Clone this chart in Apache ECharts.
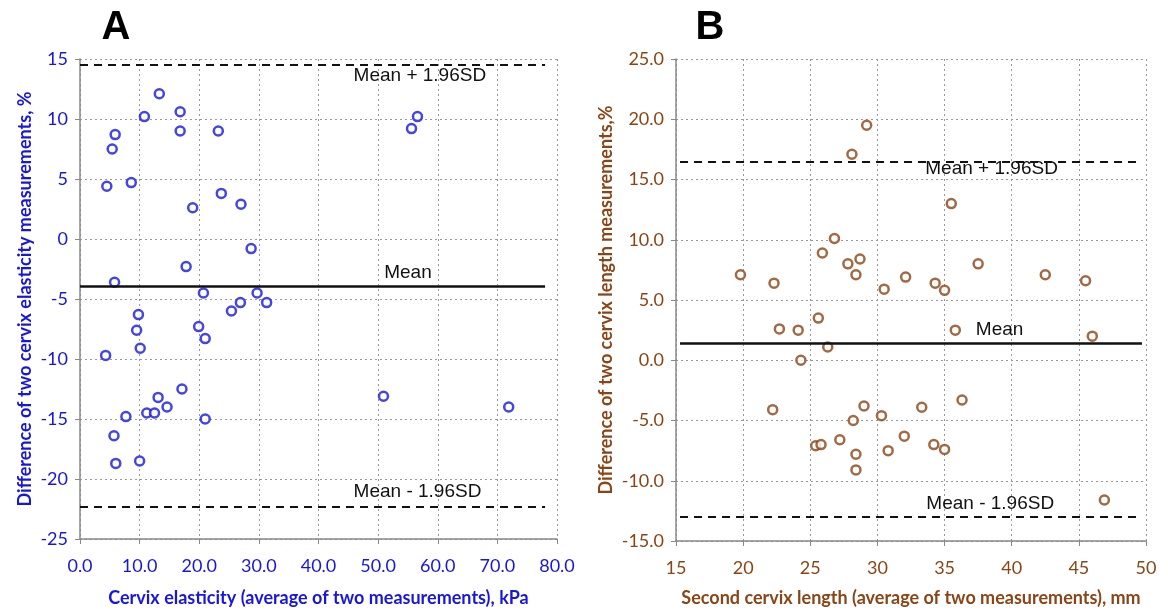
<!DOCTYPE html>
<html>
<head>
<meta charset="utf-8">
<script src="https://cdn.jsdelivr.net/npm/echarts@6/dist/echarts.min.js"></script>
<style>
  html, body { margin: 0; padding: 0; background: #fff; }
  #chart { width: 1168px; height: 612px; }
</style>
</head>
<body>
<div id="chart"></div>
<script>
  // panel A: cervix elasticity (average, kPa) vs difference (%)
  const elasticityAvg = [4.5, 5.4, 5.9, 8.6, 10.8, 13.3, 16.8, 16.8, 23.2, 23.7,
    18.9, 27.0, 28.7, 17.8, 5.8, 20.7, 29.7, 26.9, 31.3, 25.4,
    9.8, 9.5, 10.1, 4.3, 19.9, 21.0, 17.1, 13.1, 14.6, 11.2,
    12.5, 7.7, 21.0, 5.7, 6.0, 10.0, 56.6, 55.6, 50.9, 71.9];
  const elasticityDiff = [4.4, 7.5, 8.7, 4.7, 10.2, 12.1, 10.6, 9.0, 9.0, 3.8,
    2.6, 2.9, -0.8, -2.3, -3.6, -4.5, -4.5, -5.3, -5.3, -6.0,
    -6.3, -7.6, -9.1, -9.7, -7.3, -8.3, -12.5, -13.2, -14.0, -14.5,
    -14.5, -14.8, -15.0, -16.4, -18.7, -18.5, 10.2, 9.2, -13.1, -14.0];
  // mean, mean + 1.96SD, mean - 1.96SD
  const elasticityLimits = [-3.9, 14.5, -22.3];

  // panel B: second cervix length (average, mm) vs difference (%)
  const lengthAvg = [19.8, 22.3, 25.9, 26.8, 27.8, 28.7, 28.4, 28.1, 29.2, 25.6,
    35.5, 30.5, 32.1, 34.3, 35.0, 37.5, 42.5, 45.5,
    22.7, 24.1, 26.3, 24.3, 22.2, 29.0, 28.2, 25.4, 25.8, 27.2,
    28.4, 28.4, 30.3, 35.8, 46.0, 33.3, 36.3, 32.0, 30.8, 34.2,
    35.0, 46.9];
  const lengthDiff = [7.1, 6.4, 8.9, 10.1, 8.0, 8.4, 7.1, 17.1, 19.5, 3.5,
    13.0, 5.9, 6.9, 6.4, 5.8, 8.0, 7.1, 6.6,
    2.6, 2.5, 1.1, 0.0, -4.1, -3.8, -5.0, -7.1, -7.0, -6.6,
    -7.8, -9.1, -4.6, 2.5, 2.0, -3.9, -3.3, -6.3, -7.5, -7.0,
    -7.4, -11.6];
  const lengthLimits = [1.4, 16.5, -13.0];

  const limitNames = ['Mean', 'Mean + 1.96SD', 'Mean - 1.96SD'];

  const blue = '#1616dc';
  const brown = '#8a4516';

  function limitLines(vals, x0, x1) {
    return vals.map((v, i) => [
      { coord: [x0, v], lineStyle: i === 0
        ? { type: 'solid', width: 2.5, color: '#111' }
        : { type: [8, 6], width: 2, color: '#111' } },
      { coord: [x1, v] },
    ]);
  }

  function limitLabels(pos) {
    return pos.map((p, i) => ({ name: limitNames[i], coord: p }));
  }

  function xAxis(idx, min, max, interval, color, name, decimals, gap) {
    return {
      gridIndex: idx, type: 'value', min: min, max: max, interval: interval,
      name: name, nameLocation: 'middle', nameGap: gap,
      nameTextStyle: { color: color, fontFamily: 'Lato', fontWeight: 'bold', fontSize: 18 },
      axisLine: { onZero: false, lineStyle: { color: '#888', width: 1.5 } },
      axisTick: { show: true, length: 5, lineStyle: { color: '#888' } },
      axisLabel: { color: color, fontFamily: 'Lato', fontSize: 18, margin: 18,
        formatter: (v) => v.toFixed(decimals) },
      splitLine: { show: true, lineStyle: { type: [2, 3], color: '#999', width: 1 } },
    };
  }

  function yAxis(idx, min, max, color, name, decimals, gap) {
    return {
      gridIndex: idx, type: 'value', min: min, max: max, interval: 5,
      name: name, nameLocation: 'middle', nameGap: gap,
      nameTextStyle: { color: color, fontFamily: 'Lato', fontWeight: 'bold', fontSize: 18 },
      axisLine: { show: true, onZero: false, lineStyle: { color: '#888', width: 1.5 } },
      axisTick: { show: true, length: 5, lineStyle: { color: '#888' } },
      axisLabel: { color: color, fontFamily: 'Lato', fontSize: 18, margin: 12,
        formatter: (v) => v.toFixed(decimals) },
      splitLine: { show: true, lineStyle: { type: [2, 3], color: '#999', width: 1 } },
    };
  }

  const labelStyle = {
    show: true, position: 'inside', formatter: '{b}',
    fontFamily: 'Liberation Sans', fontSize: 19, color: '#111',
  };

  const chart = echarts.init(document.getElementById('chart'));
  chart.setOption({
    backgroundColor: '#fff',
    animation: false,
    title: [
      { text: 'A', left: 111, top: 3, textAlign: 'center',
        textStyle: { fontFamily: 'Liberation Sans', fontWeight: 'bold', fontSize: 40, color: '#000' } },
      { text: 'B', left: 705, top: 3, textAlign: 'center',
        textStyle: { fontFamily: 'Liberation Sans', fontWeight: 'bold', fontSize: 40, color: '#000' } },
    ],
    grid: [
      { left: 80, top: 59, width: 477, height: 480 },
      { left: 676, top: 59, width: 470, height: 482 },
    ],
    xAxis: [
      xAxis(0, 0, 80, 10, blue, 'Cervix elasticity (average of two measurements), kPa', 1, 50),
      xAxis(1, 15, 50, 5, brown, 'Second cervix length (average of two measurements), mm', 0, 48),
    ],
    yAxis: [
      yAxis(0, -25, 15, blue, 'Difference of two cervix elasticity measurements, %', 0, 46),
      yAxis(1, -15, 25, brown, 'Difference of two cervix length measurements,%', 1, 61),
    ],
    series: [
      {
        type: 'scatter', xAxisIndex: 0, yAxisIndex: 0,
        data: elasticityAvg.map((x, i) => [x, elasticityDiff[i]]),
        symbol: 'circle', symbolSize: 9,
        itemStyle: { color: '#fff', borderColor: blue, borderWidth: 2.5 },
        markLine: {
          silent: true, symbol: 'none', label: { show: false },
          data: limitLines(elasticityLimits, 0, 78),
        },
        markPoint: {
          silent: true, symbol: 'circle', symbolSize: 0, label: labelStyle,
          data: limitLabels([[55.0, -2.8], [57.0, 13.6], [56.6, -21.1]]),
        },
      },
      {
        type: 'scatter', xAxisIndex: 1, yAxisIndex: 1,
        data: lengthAvg.map((x, i) => [x, lengthDiff[i]]),
        symbol: 'circle', symbolSize: 9,
        itemStyle: { color: '#fff', borderColor: brown, borderWidth: 2.5 },
        markLine: {
          silent: true, symbol: 'none', label: { show: false },
          data: limitLines(lengthLimits, 15.3, 49.7),
        },
        markPoint: {
          silent: true, symbol: 'circle', symbolSize: 0, label: labelStyle,
          data: limitLabels([[39.1, 2.5], [38.5, 15.9], [38.4, -11.9]]),
        },
      },
    ],
  });
</script>
</body>
</html>
